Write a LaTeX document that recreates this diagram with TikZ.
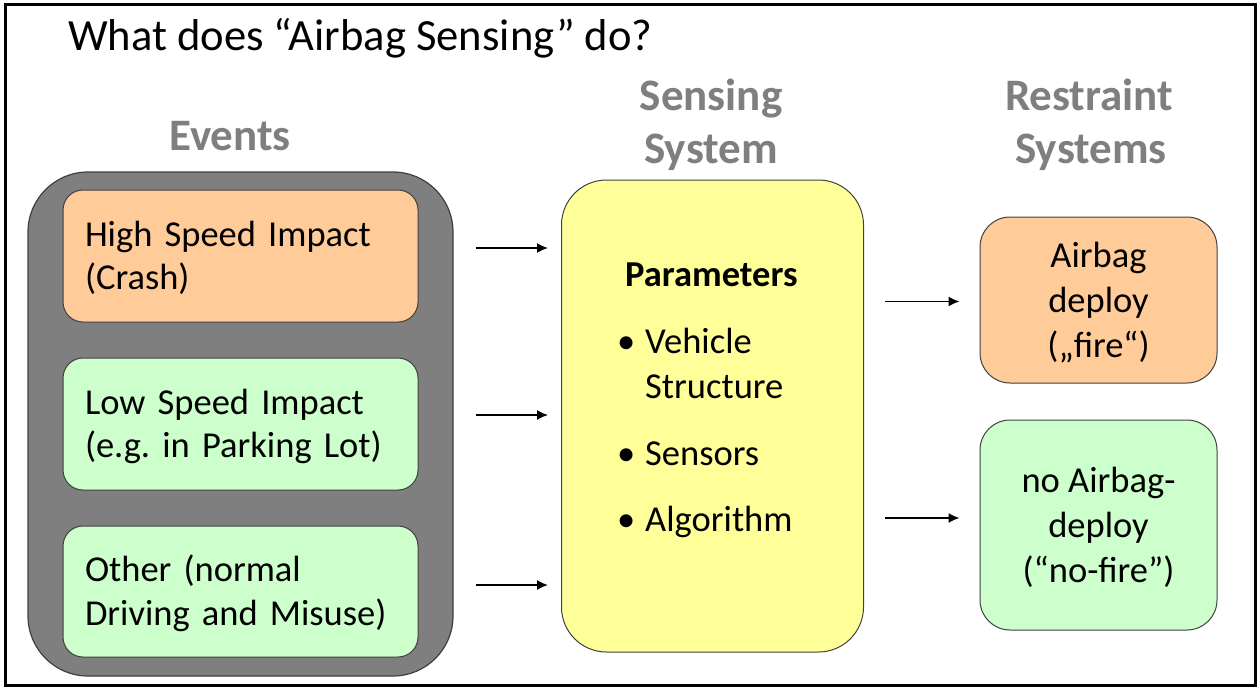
\documentclass[tikz,border=0pt]{standalone}
\usepackage{fontspec}
\setmainfont{Carlito}
\usetikzlibrary{arrows.meta}
\definecolor{peach}{HTML}{FFCC99}
\definecolor{mint}{HTML}{CCFFCC}
\definecolor{lemon}{HTML}{FFFF99}
\definecolor{slate}{HTML}{7F7F7F}
\definecolor{edge}{HTML}{404040}
\definecolor{headgray}{HTML}{7F7F7F}
\frenchspacing
% fixed top and bottom room for box texts, so that they sit at the same height
\newcommand{\toproom}{\rule{0pt}{33pt}}
\newcommand{\botroom}{\rule[-9pt]{0pt}{9pt}}

\begin{document}
\begin{tikzpicture}[x=1pt,y=-1pt,
  body/.style={font=\fontsize{36.5}{43.5}\selectfont},
  head/.style={font=\fontsize{45}{53}\selectfont\bfseries, text=headgray, anchor=base, inner sep=0pt},
  eventbox/.style={draw=edge, line width=1pt, rounded corners=20pt, minimum height=132pt,
    text width=311pt, inner xsep=22pt, inner ysep=0pt, align=left, body},
  resultbox/.style={draw=edge, line width=1pt, rounded corners=30pt, minimum width=237pt,
    inner sep=0pt, align=center, font=\fontsize{36.5}{45}\selectfont},
  line/.style={body, anchor=base west, inner sep=0pt},
  arr/.style={line width=1.6pt, -{Latex[length=11pt,width=10pt]}},
]
\useasboundingbox (0,0) rectangle (1258,691);
\fill[white] (0,0) rectangle (1258,691);
\draw[line width=3pt] (5.5,4.5) rectangle (1255.5,685.5);

% title
\node[anchor=base west, inner sep=0pt, font=\fontsize{44.6}{50}\selectfont] (title) at (68,50)
  {What does “Airbag Sensing” do?};

% column headings
\node[head] (hevents) at (230,150) {Events};
\node[head] (hsens1) at (711,110) {Sensing};
\node[head] (hsens2) at (711,163) {System};
\node[head] (hrest1) at (1089,110) {Restraint};
\node[head] (hrest2) at (1091,163) {Systems};

% events
\node[draw=edge, fill=slate, line width=1.2pt, rounded corners=60pt,
  minimum width=425pt, minimum height=504pt, inner sep=0pt] (events) at (240.5,424) {};
\node[eventbox, fill=peach] (crash) at (240.5,256)
  {\toproom High Speed Impact\\(Crash)\botroom};
\node[eventbox, fill=mint] (low) at (240.5,424)
  {\toproom Low Speed Impact\\(e.g. in Parking Lot)\botroom};
\node[eventbox, fill=mint, minimum height=131pt] (other) at (240.5,591.5)
  {\toproom Other (normal\\Driving and Misuse)\botroom};

% sensing system
\node[draw=edge, fill=lemon, line width=1pt, rounded corners=45pt,
  minimum width=302pt, minimum height=472pt, inner sep=0pt] (sens) at (712.5,416) {};
\node[line, font=\fontsize{36.5}{43.5}\selectfont\bfseries] (params) at (625,286) {Parameters};
\node[line] (b1) at (617,353) {•};
\node[line] (p1) at (645,353) {Vehicle};
\node[line] (p1b) at (645,398) {Structure};
\node[line] (b2) at (617,465) {•};
\node[line] (p2) at (645,465) {Sensors};
\node[line] (b3) at (617,531) {•};
\node[line] (p3) at (645,531) {Algorithm};

% restraint systems
\node[resultbox, fill=peach, minimum height=166pt] (fire) at (1098.5,300)
  {\toproom Airbag\\deploy\\(„fire“)\botroom};
\node[resultbox, fill=mint, minimum height=210pt] (nofire) at (1098.5,525)
  {\toproom no Airbag-\\deploy\\(“no-fire”)\botroom};

% connectors
\coordinate (a1) at ([yshift=8pt]crash.east);
\coordinate (a2) at ([yshift=9pt]low.east);
\coordinate (a3) at ([yshift=6.5pt]other.east);
\draw[arr, shorten <=57pt, shorten >=13pt] (a1) -- (a1 -| sens.west);
\draw[arr, shorten <=57pt, shorten >=13pt] (a2) -- (a2 -| sens.west);
\draw[arr, shorten <=57pt, shorten >=13pt] (a3) -- (a3 -| sens.west);
\coordinate (r1) at ([yshift=-1.5pt]fire.west);
\coordinate (r2) at ([yshift=7pt]nofire.west);
\draw[arr, shorten <=21pt, shorten >=20pt] (r1 -| sens.east) -- (r1);
\draw[arr, shorten <=21pt, shorten >=20pt] (r2 -| sens.east) -- (r2);
\end{tikzpicture}
\end{document}
